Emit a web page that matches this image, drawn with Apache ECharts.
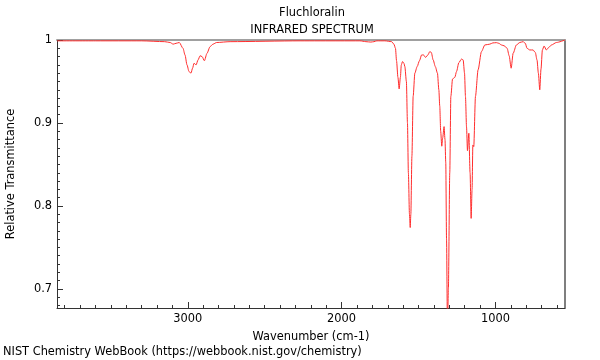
<!DOCTYPE html>
<html><head><meta charset="utf-8">
<script src="https://cdn.jsdelivr.net/npm/echarts@6/dist/echarts.min.js"></script>
<style>html,body{margin:0;padding:0;background:#fff}#c{width:600px;height:360px}</style>
</head><body><div id="c"></div>
<script>
const wavenumber = [3850,3600,3300,3150,3115,3095,3076,3055,3031,3018,3005,2992,2979,2969,2959,2946,2933,2920,2907,2892,2875,2855,2836,2812,2725,2270,2010,1881,1842,1810,1790,1771,1719,1675,1660,1650,1643,1634,1626,1618,1612,1604,1595,1589,1579,1572,1566,1559,1554,1550,1543,1535,1524,1509,1494,1480,1468,1454,1439,1427,1417,1405,1391,1377,1368,1362,1356,1349,1343,1334,1328,1323,1318,1312,1306,1297,1290,1279,1264,1253,1238,1221,1210,1201,1195,1188,1182,1173,1165,1158,1152,1147,1141,1130,1113,1091,1069,1037,1017,993,978,961,943,924,911,898,885,864,842,820,806,795,777,756,741,730,721,712,704,695,684,669,654,636,604,548];
const transmittance = [0.999,0.999,0.999,0.998,0.997,0.995,0.996,0.997,0.990,0.982,0.970,0.962,0.960,0.966,0.972,0.970,0.976,0.981,0.980,0.975,0.984,0.992,0.995,0.997,0.998,0.999,0.999,0.999,0.998,0.9975,0.998,0.999,0.999,0.998,0.995,0.990,0.975,0.955,0.941,0.955,0.970,0.974,0.972,0.968,0.950,0.900,0.840,0.790,0.774,0.790,0.860,0.932,0.960,0.968,0.975,0.982,0.982,0.979,0.982,0.986,0.985,0.976,0.968,0.960,0.940,0.920,0.890,0.872,0.882,0.8956,0.880,0.852,0.760,0.650,0.700,0.840,0.932,0.953,0.955,0.962,0.9727,0.977,0.976,0.960,0.932,0.895,0.8667,0.8876,0.840,0.785,0.820,0.8735,0.8715,0.932,0.964,0.986,0.994,0.995,0.9965,0.9968,0.996,0.994,0.993,0.990,0.981,0.966,0.984,0.994,0.997,0.998,0.996,0.990,0.988,0.988,0.985,0.976,0.960,0.940,0.965,0.988,0.9928,0.988,0.991,0.994,0.997,1.0];
const xMajorTicks = [1000,2000,3000];
const xMinorTicks = [600,700,800,900,1000,1100,1200,1300,1400,1500,1600,1700,1800,1900,2000,2100,2200,2300,2400,2500,2600,2700,2800,2900,3000,3100,3200,3300,3400,3500,3600,3700,3800];
const yMajorTicks = [0.7,0.8,0.9,1];
const yMinorTicks = [0.68,0.69,0.7,0.71,0.72,0.73,0.74,0.75,0.76,0.77,0.78,0.79,0.8,0.81,0.82,0.83,0.84,0.85,0.86,0.87,0.88,0.89,0.9,0.91,0.92,0.93,0.94,0.95,0.96,0.97,0.98,0.99];
const chartTitle = 'Fluchloralin';
const chartSubtitle = 'INFRARED SPECTRUM';
const xName = 'Wavenumber (cm-1)';
const yName = 'Relative Transmittance';
const footer = 'NIST Chemistry WebBook (https://webbook.nist.gov/chemistry)';

const X_MIN = 548, X_MAX = 3850, Y_MIN = 0.677, Y_MAX = 1;
const FONT = 'DejaVu Sans';
const FS = 11.4;
const axisColor = '#333';
const chart = echarts.init(document.getElementById('c'), null, {renderer: 'canvas'});
const points = wavenumber.map((w, i) => [w, transmittance[i]]);
const baseX = {type: 'value', inverse: true, min: X_MIN, max: X_MAX, splitLine: {show: false}, gridIndex: 0};
const baseY = {type: 'value', min: Y_MIN, max: Y_MAX, splitLine: {show: false}, gridIndex: 0};
const fontStr = FS + 'px "DejaVu Sans"';
chart.setOption({
  animation: false,
  backgroundColor: '#fff',
  grid: {left: 57, right: 35, top: 40, bottom: 52, containLabel: false, outerBoundsMode: 'none'},
  graphic: [
    {type: 'text', x: 312, y: 13, style: {text: chartTitle, font: fontStr, fill: '#000', align: 'center', verticalAlign: 'middle'}},
    {type: 'text', x: 312, y: 30, style: {text: chartSubtitle, font: fontStr, fill: '#000', align: 'center', verticalAlign: 'middle'}},
    {type: 'text', x: 3, y: 352, style: {text: footer, font: fontStr, fill: '#000', align: 'left', verticalAlign: 'middle'}}
  ],
  xAxis: [
    Object.assign({}, baseX, {
      position: 'bottom',
      axisLine: {show: true, lineStyle: {color: axisColor, width: 1}},
      axisTick: {show: true, inside: true, length: 6, customValues: xMajorTicks, lineStyle: {color: axisColor}},
      axisLabel: {show: true, customValues: xMajorTicks, formatter: v => String(v), color: '#000', fontFamily: FONT, fontSize: FS, margin: 6},
      name: xName, nameLocation: 'middle', nameGap: 24,
      nameTextStyle: {color: '#000', fontFamily: FONT, fontSize: FS}
    }),
    Object.assign({}, baseX, {
      position: 'bottom',
      axisLine: {show: false},
      axisTick: {show: true, inside: true, length: 3, customValues: xMinorTicks, lineStyle: {color: axisColor}},
      axisLabel: {show: false}
    }),
    Object.assign({}, baseX, {
      position: 'top',
      axisLine: {show: true, lineStyle: {color: '#a0a0a0', width: 2}},
      axisTick: {show: false},
      axisLabel: {show: false}
    })
  ],
  yAxis: [
    Object.assign({}, baseY, {
      position: 'left',
      axisLine: {show: true, lineStyle: {color: axisColor, width: 1}},
      axisTick: {show: true, inside: true, length: 6, customValues: yMajorTicks, lineStyle: {color: axisColor}},
      axisLabel: {show: true, customValues: yMajorTicks, formatter: v => String(v), color: '#000', fontFamily: FONT, fontSize: FS, margin: 5},
      name: yName, nameLocation: 'middle', nameGap: 40, nameRotate: 90,
      nameTextStyle: {color: '#000', fontFamily: FONT, fontSize: FS}
    }),
    Object.assign({}, baseY, {
      position: 'left',
      axisLine: {show: false},
      axisTick: {show: true, inside: true, length: 3, customValues: yMinorTicks, lineStyle: {color: axisColor}},
      axisLabel: {show: false}
    }),
    Object.assign({}, baseY, {
      position: 'right',
      axisLine: {show: true, lineStyle: {color: '#555', width: 1.5}},
      axisTick: {show: false},
      axisLabel: {show: false}
    })
  ],
  series: [{
    type: 'line',
    xAxisIndex: 0, yAxisIndex: 0,
    data: points,
    showSymbol: false,
    symbol: 'none',
    smooth: 0.25,
    smoothMonotone: 'x',
    clip: true,
    lineStyle: {color: 'rgb(255,45,45)', width: 1},
    z: 3
  }]
});
</script></body></html>
